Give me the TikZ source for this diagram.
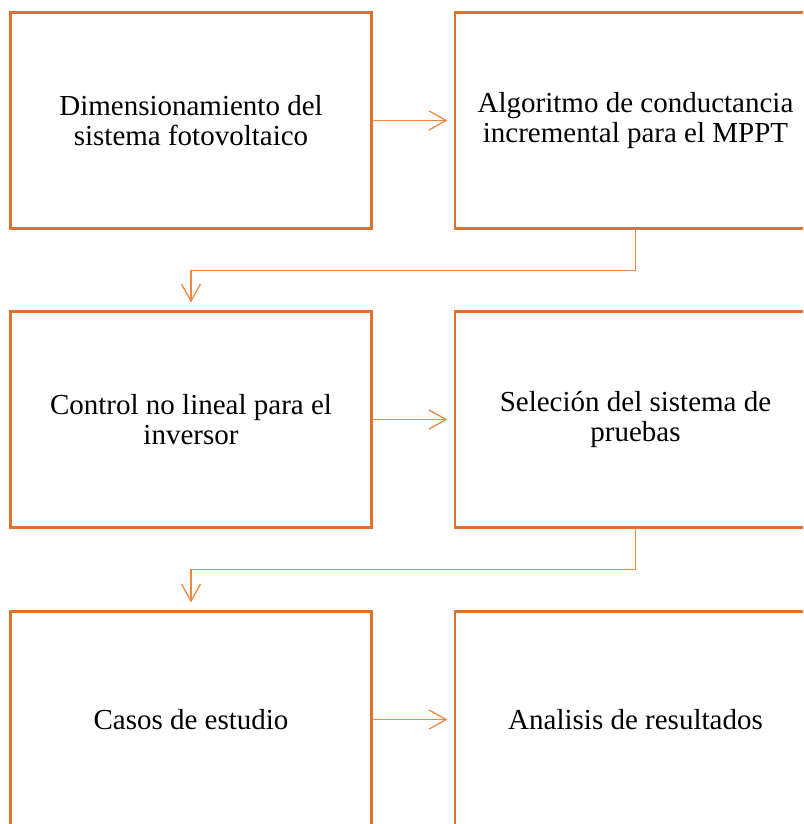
\documentclass[tikz,border=0pt]{standalone}
\usepackage{fontspec}
\setmainfont{Liberation Serif}
\usetikzlibrary{arrows.meta}
\definecolor{boxc}{RGB}{222,114,48}
\definecolor{arrc}{RGB}{240,136,66}
\begin{document}
\begin{tikzpicture}[x=1pt,y=-1pt,
  stepbox/.style={draw=boxc, line width=2.2pt, rectangle, minimum width=361pt, minimum height=216pt, inner sep=0pt, align=center, font=\fontsize{29}{30}\selectfont},
  conn/.style={draw=arrc, line width=1.3pt, -{Straight Barb[length=17pt,width=19pt,line width=1.3pt]}}]
\useasboundingbox (0,0) rectangle (803,824);
\clip (0,0) rectangle (803,824);
\node[stepbox] (b1) at (191,120.5) {Dimensionamiento del\\sistema fotovoltaico};
\node[stepbox] (b2) at (635.5,120.5) {Algoritmo de conductancia\\incremental para el MPPT};
\node[stepbox] (b3) at (191,419.5) {Control no lineal para el\\inversor};
\node[stepbox] (b4) at (635.5,419.5) {Seleción del sistema de\\pruebas};
\node[stepbox] (b5) at (191,719.5) {Casos de estudio};
\node[stepbox] (b6) at (635.5,719.5) {Analisis de resultados};
\draw[conn, shorten >=6.5pt] (b1.east) -- (b2.west);
\draw[conn, shorten >=6.5pt] (b3.east) -- (b4.west);
\draw[conn, shorten >=6.5pt] (b5.east) -- (b6.west);
\draw[conn, shorten >=8pt] (b2.south) -- ++(0,41) -| (b3.north);
\draw[conn, shorten >=8pt] (b4.south) -- ++(0,41) -| (b5.north);
\end{tikzpicture}
\end{document}
